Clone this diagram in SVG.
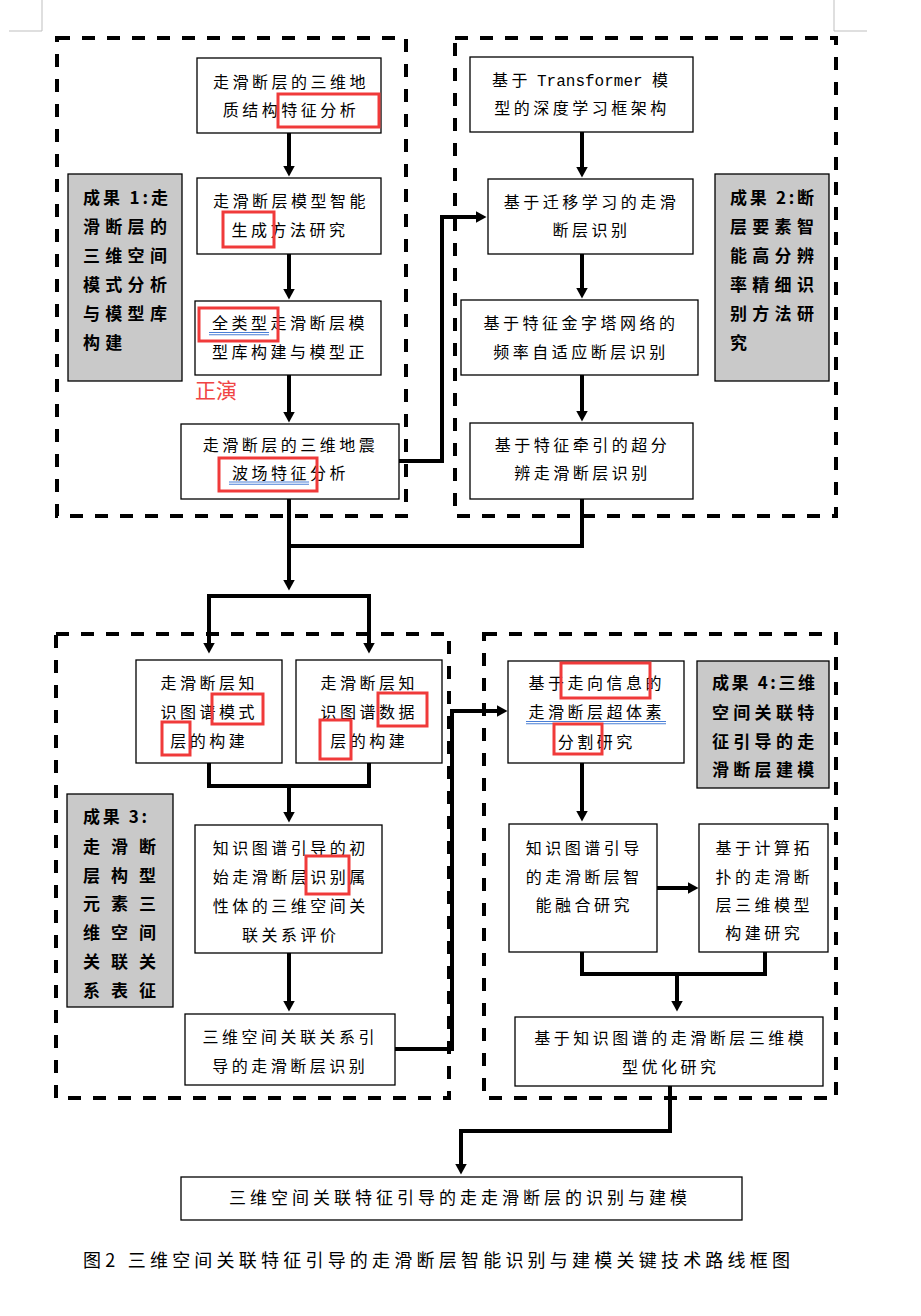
<svg xmlns="http://www.w3.org/2000/svg" width="921" height="1316" viewBox="0 0 921 1316">
<style>
.bx{fill:#fff;stroke:#000;stroke-width:1.3}
.gb{fill:#c9c9c9;stroke:#000;stroke-width:1.3}
.t{font-family:"Noto Sans CJK SC","Noto Sans",sans-serif;font-size:16px;letter-spacing:3.5px;text-anchor:middle;fill:#000}
.gt{font-family:"Noto Sans CJK SC","Noto Sans",sans-serif;font-size:17px;font-weight:bold;letter-spacing:5.3px;fill:#000}
.red{fill:none;stroke:#f03a3a;stroke-width:3}
.blue{stroke:#4a7fd6;stroke-width:1.1}
.conn{fill:none;stroke:#000;stroke-width:4;stroke-linejoin:miter}
.dash{fill:none;stroke:#000;stroke-width:4;stroke-dasharray:13 12}
.crn{fill:none;stroke:#bfbfbf;stroke-width:1}
</style>
<defs>
<marker id="ah" viewBox="0 -6 11 12" refX="0.5" refY="0" markerWidth="11" markerHeight="12" markerUnits="userSpaceOnUse" orient="auto">
<path d="M0,-6 L11,0 L0,6 Z" fill="#000"/>
</marker>
</defs>
<rect width="921" height="1316" fill="#fff"/>
<g id="page-corners">
<path class="crn" d="M9,31 H42 V0"/>
<path class="crn" d="M834,0 V31 H867"/>
</g>
<g id="groups">
<rect class="dash" x="57" y="38" width="349" height="478"/>
<rect class="dash" x="455" y="38" width="381" height="478"/>
<rect class="dash" x="56" y="634" width="393" height="464"/>
<rect class="dash" x="484" y="634" width="352" height="464"/>
</g>
<g id="connectors">
<path class="conn" d="M289,133 V166" marker-end="url(#ah)"/>
<path class="conn" d="M289,254 V289" marker-end="url(#ah)"/>
<path class="conn" d="M289,375 V412" marker-end="url(#ah)"/>
<path class="conn" d="M582,132 V167" marker-end="url(#ah)"/>
<path class="conn" d="M582,254 V288" marker-end="url(#ah)"/>
<path class="conn" d="M582,375 V411" marker-end="url(#ah)"/>
<path class="conn" d="M399,461 H442 V217 H476" marker-end="url(#ah)"/>
<path class="conn" d="M582,499 V546 H287"/>
<path class="conn" d="M289,499 V580" marker-end="url(#ah)"/>
<path class="conn" d="M291,596 H209 V643" marker-end="url(#ah)"/>
<path class="conn" d="M287,596 H369 V643" marker-end="url(#ah)"/>
<path class="conn" d="M209,763 V786 H369 V763"/>
<path class="conn" d="M289,786 V812" marker-end="url(#ah)"/>
<path class="conn" d="M289,953 V1001" marker-end="url(#ah)"/>
<path class="conn" d="M395,1049 H452 V711 H497" marker-end="url(#ah)"/>
<path class="conn" d="M582,763 V811" marker-end="url(#ah)"/>
<path class="conn" d="M657,888 H688" marker-end="url(#ah)"/>
<path class="conn" d="M582,952 V974 H765 V952"/>
<path class="conn" d="M677,974 V1001" marker-end="url(#ah)"/>
<path class="conn" d="M670,1086 V1131 H461 V1164" marker-end="url(#ah)"/>
</g>
<g id="node-a1">
<rect class="bx" x="197" y="58" width="184" height="75"/>
<text class="t" x="291" y="88">走滑断层的三维地</text>
<text class="t" x="291" y="116">质结构特征分析</text>
<rect class="red" x="278" y="94" width="101" height="33"/>
</g>
<g id="node-a2">
<rect class="bx" x="197" y="178" width="184" height="76"/>
<text class="t" x="291" y="207">走滑断层模型智能</text>
<text class="t" x="290" y="236">生成方法研究</text>
<rect class="red" x="223" y="212" width="51" height="35"/>
</g>
<g id="node-a3">
<rect class="bx" x="195" y="301" width="186" height="74"/>
<text class="t" x="290" y="329">全类型走滑断层模</text>
<text class="t" x="290" y="358">型库构建与模型正</text>
<line class="blue" x1="209" y1="332.5" x2="269" y2="332.5"/>
<line class="blue" x1="209" y1="334.8" x2="269" y2="334.8"/>
<rect class="red" x="199" y="308" width="79" height="33"/>
</g>
<g id="note-zhengyan">
<text x="195" y="398" style="font-family:'Noto Sans CJK SC',sans-serif;font-size:21px;fill:#f04444">正演</text>
</g>
<g id="node-a4">
<rect class="bx" x="181" y="424" width="218" height="75"/>
<text class="t" x="290.5" y="451">走滑断层的三维地震</text>
<text class="t" x="290.5" y="479">波场特征分析</text>
<line class="blue" x1="229" y1="482" x2="309" y2="482"/>
<line class="blue" x1="229" y1="484.3" x2="309" y2="484.3"/>
<rect class="red" x="219" y="458" width="98" height="33"/>
</g>
<g id="result-1">
<rect class="gb" x="68" y="174" width="114" height="207"/>
<text class="gt" x="83" y="204" style="letter-spacing:0" textLength="85" lengthAdjust="spacing">成果 1:走</text>
<text class="gt" x="83" y="233">滑断层的</text>
<text class="gt" x="83" y="262">三维空间</text>
<text class="gt" x="83" y="291">模式分析</text>
<text class="gt" x="83" y="320">与模型库</text>
<text class="gt" x="83" y="349">构建</text>
</g>
<g id="node-b1">
<rect class="bx" x="470" y="57" width="223" height="75"/>
<text class="t" x="492" y="86" style="text-anchor:start"><tspan>基于 </tspan><tspan x="537" style="font-family:'Liberation Mono',monospace;letter-spacing:0">Transformer </tspan><tspan x="652">模</tspan></text>
<text class="t" x="582" y="114">型的深度学习框架构</text>
</g>
<g id="node-b2">
<rect class="bx" x="488" y="179" width="205" height="75"/>
<text class="t" x="591.5" y="208">基于迁移学习的走滑</text>
<text class="t" x="591.5" y="236">断层识别</text>
</g>
<g id="node-b3">
<rect class="bx" x="461" y="300" width="237" height="75"/>
<text class="t" x="581" y="329">基于特征金字塔网络的</text>
<text class="t" x="581" y="358">频率自适应断层识别</text>
</g>
<g id="node-b4">
<rect class="bx" x="470" y="423" width="223" height="76"/>
<text class="t" x="582.5" y="451">基于特征牵引的超分</text>
<text class="t" x="582.5" y="479">辨走滑断层识别</text>
</g>
<g id="result-2">
<rect class="gb" x="715" y="174" width="114" height="207"/>
<text class="gt" x="730" y="204" style="letter-spacing:0" textLength="84" lengthAdjust="spacing">成果 2:断</text>
<text class="gt" x="730" y="233">层要素智</text>
<text class="gt" x="730" y="262">能高分辨</text>
<text class="gt" x="730" y="291">率精细识</text>
<text class="gt" x="730" y="320">别方法研</text>
<text class="gt" x="730" y="349">究</text>
</g>
<g id="node-c1">
<rect class="bx" x="136" y="660" width="146" height="103"/>
<text class="t" x="209.3" y="689">走滑断层知</text>
<text class="t" x="209.3" y="718">识图谱模式</text>
<text class="t" x="209.3" y="747">层的构建</text>
<rect class="red" x="212" y="694" width="51" height="30"/>
<rect class="red" x="162" y="722" width="28" height="33"/>
</g>
<g id="node-c2">
<rect class="bx" x="296" y="660" width="146" height="103"/>
<text class="t" x="369.3" y="689">走滑断层知</text>
<text class="t" x="369.3" y="718">识图谱数据</text>
<text class="t" x="369.3" y="747">层的构建</text>
<rect class="red" x="378" y="693" width="49" height="33"/>
<rect class="red" x="320" y="720" width="31" height="39"/>
</g>
<g id="node-c3">
<rect class="bx" x="195" y="825" width="187" height="128"/>
<text class="t" x="290.8" y="854">知识图谱引导的初</text>
<text class="t" x="290.8" y="883">始走滑断层识别属</text>
<text class="t" x="290.8" y="912">性体的三维空间关</text>
<text class="t" x="290.8" y="941">联关系评价</text>
<rect class="red" x="306" y="856" width="43" height="38"/>
</g>
<g id="node-c4">
<rect class="bx" x="185" y="1014" width="210" height="71"/>
<text class="t" x="290.3" y="1043">三维空间关联关系引</text>
<text class="t" x="290.3" y="1072">导的走滑断层识别</text>
</g>
<g id="result-3">
<rect class="gb" x="67" y="794" width="106" height="213"/>
<text class="gt" x="83" y="823" style="letter-spacing:0" textLength="64" lengthAdjust="spacing">成果 3:</text>
<text class="gt" x="83 101 111 129 139" y="853">走 滑 断</text>
<text class="gt" x="83 101 111 129 139" y="882">层 构 型</text>
<text class="gt" x="83 101 111 129 139" y="910">元 素 三</text>
<text class="gt" x="83 101 111 129 139" y="939">维 空 间</text>
<text class="gt" x="83 101 111 129 139" y="968">关 联 关</text>
<text class="gt" x="83 101 111 129 139" y="997">系 表 征</text>
</g>
<g id="node-d1">
<rect class="bx" x="508" y="661" width="176" height="102"/>
<text class="t" x="596.8" y="689">基于走向信息的</text>
<text class="t" x="596.8" y="718">走滑断层超体素</text>
<text class="t" x="596.8" y="748">分割研究</text>
<line class="blue" x1="526" y1="721.5" x2="666" y2="721.5"/>
<line class="blue" x1="526" y1="723.8" x2="666" y2="723.8"/>
<rect class="red" x="561" y="663" width="89" height="35"/>
<rect class="red" x="554" y="724" width="48" height="30"/>
</g>
<g id="result-4">
<rect class="gb" x="697" y="661" width="132" height="127"/>
<text class="gt" x="712" y="689" style="letter-spacing:0" textLength="103" lengthAdjust="spacing">成果 4:三维</text>
<text class="gt" x="712" y="719" style="letter-spacing:4.3px">空间关联特</text>
<text class="gt" x="712" y="748" style="letter-spacing:4.3px">征引导的走</text>
<text class="gt" x="712" y="776" style="letter-spacing:4.3px">滑断层建模</text>
</g>
<g id="node-d2">
<rect class="bx" x="509" y="824" width="148" height="128"/>
<text class="t" x="584.3" y="854">知识图谱引导</text>
<text class="t" x="584.3" y="883">的走滑断层智</text>
<text class="t" x="584.3" y="911">能融合研究</text>
</g>
<g id="node-d3">
<rect class="bx" x="699" y="824" width="129" height="128"/>
<text class="t" x="764.3" y="854">基于计算拓</text>
<text class="t" x="764.3" y="883">扑的走滑断</text>
<text class="t" x="764.3" y="911">层三维模型</text>
<text class="t" x="764.3" y="939">构建研究</text>
</g>
<g id="node-d4">
<rect class="bx" x="515" y="1017" width="308" height="69"/>
<text class="t" x="670.8" y="1044">基于知识图谱的走滑断层三维模</text>
<text class="t" x="670.8" y="1073">型优化研究</text>
</g>
<g id="node-final">
<rect class="bx" x="181" y="1177" width="561" height="43"/>
<text class="t" x="460" y="1204" style="font-size:17px;letter-spacing:4px">三维空间关联特征引导的走走滑断层的识别与建模</text>
</g>
<g id="caption">
<text x="83" y="1267" textLength="707" lengthAdjust="spacing" style="font-family:'Noto Sans CJK SC',sans-serif;font-size:18px;fill:#000">图2 三维空间关联特征引导的走滑断层智能识别与建模关键技术路线框图</text>
</g>
</svg>
